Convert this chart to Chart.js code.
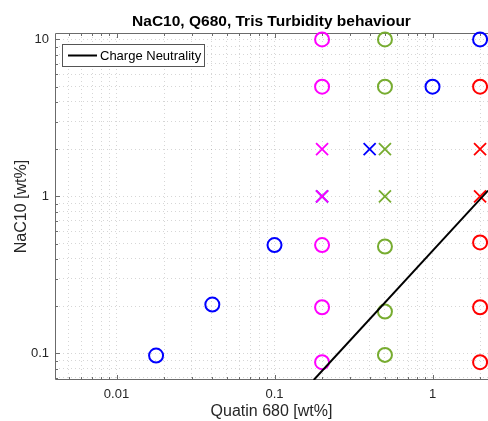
<!DOCTYPE html>
<html><head><meta charset="utf-8">
<script src="https://cdn.jsdelivr.net/npm/chart.js@4/dist/chart.umd.min.js"></script>
<style>html,body{margin:0;padding:0;background:#fff;overflow:hidden}</style>
</head><body>
<canvas id="c" width="488" height="421" style="display:block;width:488px;height:421px"></canvas>
<script>
// ---- text ----
const titleText = 'NaC10, Q680, Tris Turbidity behaviour';
const xAxisLabel = 'Quatin 680 [wt%]';
const yAxisLabel = 'NaC10 [wt%]';
const legendLabel = 'Charge Neutrality';

// ---- axis limits & ticks ----
const xLimits = [0.00408, 2.245];
const yLimits = [0.0678, 10.99];
const xMajorTicks = [0.01, 0.1, 1];
const xMajorLabels = ['0.01', '0.1', '1'];
const xMinorTicks = [0.005, 0.006, 0.007, 0.008, 0.009, 0.02, 0.03, 0.04, 0.05, 0.06, 0.07, 0.08, 0.09,
                     0.2, 0.3, 0.4, 0.5, 0.6, 0.7, 0.8, 0.9, 2];
const yMajorTicks = [0.1, 1, 10];
const yMajorLabels = ['0.1', '1', '10'];
const yMinorTicks = [0.07, 0.08, 0.09, 0.2, 0.3, 0.4, 0.5, 0.6, 0.7, 0.8, 0.9,
                     2, 3, 4, 5, 6, 7, 8, 9];

// ---- data ----
const neutralityX = [0.177, 2.245];
const neutralityY = [0.0678, 1.09];

const magentaCircleX = [0.2, 0.2, 0.2, 0.2, 0.2];
const magentaCircleY = [10, 5, 0.49, 0.197, 0.088];
const magentaCrossX = [0.2, 0.2];
const magentaCrossY = [2, 1];

const greenCircleX = [0.5, 0.5, 0.5, 0.5, 0.5];
const greenCircleY = [10, 5, 0.48, 0.185, 0.098];
const greenCrossX = [0.5, 0.5];
const greenCrossY = [2, 1];

const redCircleX = [2, 2, 2, 2];
const redCircleY = [5, 0.51, 0.197, 0.088];
const redCrossX = [2, 2];
const redCrossY = [2, 1];

const blueCircleX = [2, 1, 0.1, 0.0404, 0.0178];
const blueCircleY = [10, 5, 0.49, 0.205, 0.097];
const blueCrossX = [0.4, 0.2];
const blueCrossY = [2, 1];

const FONT = 'Helvetica, "Liberation Sans", Arial, sans-serif';
const pts = (xs, ys) => xs.map((x, i) => ({x, y: ys[i]}));
const circleSet = (xs, ys, color) => ({
  type: 'scatter', data: pts(xs, ys), pointStyle: 'circle', pointRadius: 7,
  borderWidth: 2, borderColor: color, backgroundColor: 'rgba(0,0,0,0)', clip: false
});
const crossSet = (xs, ys, color) => ({
  type: 'scatter', data: pts(xs, ys), pointStyle: 'crossRot', pointRadius: 8.5,
  borderWidth: 1.8, borderColor: color, backgroundColor: color, clip: false
});

const MAG = '#FF00FF', GRN = '#77AC30', RED = '#FF0000', BLU = '#0000FF';

const frameColor = '#6b6b6b';

const framePlugin = {
  id: 'frame',
  beforeDatasetsDraw(chart) {
    const {ctx, chartArea: a, scales: {x, y}} = chart;
    ctx.save();
    ctx.strokeStyle = frameColor;
    ctx.lineWidth = 1;
    ctx.beginPath();
    ctx.moveTo(a.right, a.top + 0.5); ctx.lineTo(a.left + 0.5, a.top + 0.5);
    ctx.lineTo(a.left + 0.5, a.bottom - 0.5); ctx.lineTo(a.right, a.bottom - 0.5);
    ctx.stroke();
    ctx.beginPath();
    const tx = (v, len) => {
      const px = Math.round(x.getPixelForValue(v)) + 0.5;
      ctx.moveTo(px, a.bottom); ctx.lineTo(px, a.bottom - len);
      ctx.moveTo(px, a.top); ctx.lineTo(px, a.top + len);
    };
    const ty = (v, len) => {
      const py = Math.round(y.getPixelForValue(v)) + 0.5;
      ctx.moveTo(a.left, py); ctx.lineTo(a.left + len, py);
    };
    xMajorTicks.forEach(v => tx(v, 5)); xMinorTicks.forEach(v => tx(v, 3));
    yMajorTicks.forEach(v => ty(v, 5)); yMinorTicks.forEach(v => ty(v, 3));
    ctx.stroke();
    ctx.restore();
  },
  afterDatasetsDraw(chart) {
    const {ctx, chartArea: a} = chart;
    const ds = chart.data.datasets[0];
    ctx.save();
    const bx = a.left + 7, by = a.top + 11, bw = 142, bh = 22;
    ctx.fillStyle = '#fff';
    ctx.fillRect(bx, by, bw, bh);
    ctx.strokeStyle = '#555';
    ctx.lineWidth = 1;
    ctx.strokeRect(bx + 0.5, by + 0.5, bw, bh);
    ctx.strokeStyle = ds.borderColor;
    ctx.lineWidth = ds.borderWidth;
    ctx.beginPath();
    ctx.moveTo(bx + 6, by + 11.5); ctx.lineTo(bx + 35, by + 11.5);
    ctx.stroke();
    ctx.fillStyle = '#000';
    ctx.font = '13px ' + FONT;
    ctx.textBaseline = 'middle';
    ctx.textAlign = 'left';
    ctx.fillText(ds.label, bx + 38, by + 12);
    ctx.restore();
  }
};

const buildTicks = (major, minor) => scale => {
  scale.ticks = major.concat(minor).sort((a, b) => a - b).map(v => ({value: v}));
};
const labelFor = (major, labels) => v => {
  const i = major.findIndex(m => Math.abs(m - v) / m < 1e-6);
  return i >= 0 ? labels[i] : '';
};

new Chart(document.getElementById('c'), {
  type: 'scatter',
  data: {
    datasets: [
      {type: 'line', label: legendLabel, data: pts(neutralityX, neutralityY), borderColor: '#000',
       borderWidth: 2, pointRadius: 0, fill: false, tension: 0},
      crossSet(magentaCrossX, magentaCrossY, MAG),
      circleSet(magentaCircleX, magentaCircleY, MAG),
      crossSet(blueCrossX, blueCrossY, BLU),
      circleSet(greenCircleX, greenCircleY, GRN),
      crossSet(greenCrossX, greenCrossY, GRN),
      circleSet(redCircleX, redCircleY, RED),
      crossSet(redCrossX, redCrossY, RED),
      circleSet(blueCircleX, blueCircleY, BLU)
    ]
  },
  options: {
    responsive: false,
    animation: false,
    devicePixelRatio: 1,
    events: [],
    layout: {padding: 0, autoPadding: false},
    plugins: {
      legend: {display: false},
      tooltip: {enabled: false},
      title: {display: true, text: titleText, color: '#000', fullSize: false,
              font: {family: FONT, size: 15.5, weight: 'bold'}, padding: {top: 12, bottom: 2.4}}
    },
    scales: {
      x: {
        type: 'logarithmic', min: xLimits[0], max: xLimits[1],
        afterBuildTicks: buildTicks(xMajorTicks, xMinorTicks),
        afterFit: s => { s.height = 41; s.paddingLeft = 0; s.paddingRight = 0; },
        ticks: {autoSkip: false, maxRotation: 0, minRotation: 0, padding: 7, color: '#262626',
                font: {family: FONT, size: 13}, callback: labelFor(xMajorTicks, xMajorLabels)},
        grid: {color: 'rgba(0,0,0,0.16)', lineWidth: 1, drawTicks: false},
        border: {display: false, dash: [1, 3]},
        title: {display: true, text: xAxisLabel, color: '#262626',
                font: {family: FONT, size: 16}, padding: {top: 0, bottom: 0}}
      },
      y: {
        type: 'logarithmic', min: yLimits[0], max: yLimits[1],
        afterBuildTicks: buildTicks(yMajorTicks, yMinorTicks),
        afterFit: s => { s.width = 55; s.paddingTop = 0; s.paddingBottom = 0; },
        ticks: {autoSkip: false, padding: 6, color: '#262626',
                font: {family: FONT, size: 13}, callback: labelFor(yMajorTicks, yMajorLabels)},
        grid: {color: 'rgba(0,0,0,0.16)', lineWidth: 1, drawTicks: false},
        border: {display: false, dash: [1, 3]},
        title: {display: true, text: yAxisLabel, color: '#262626',
                font: {family: FONT, size: 16}, padding: {top: 12, bottom: 0}}
      }
    }
  },
  plugins: [framePlugin]
});
</script>
</body></html>
